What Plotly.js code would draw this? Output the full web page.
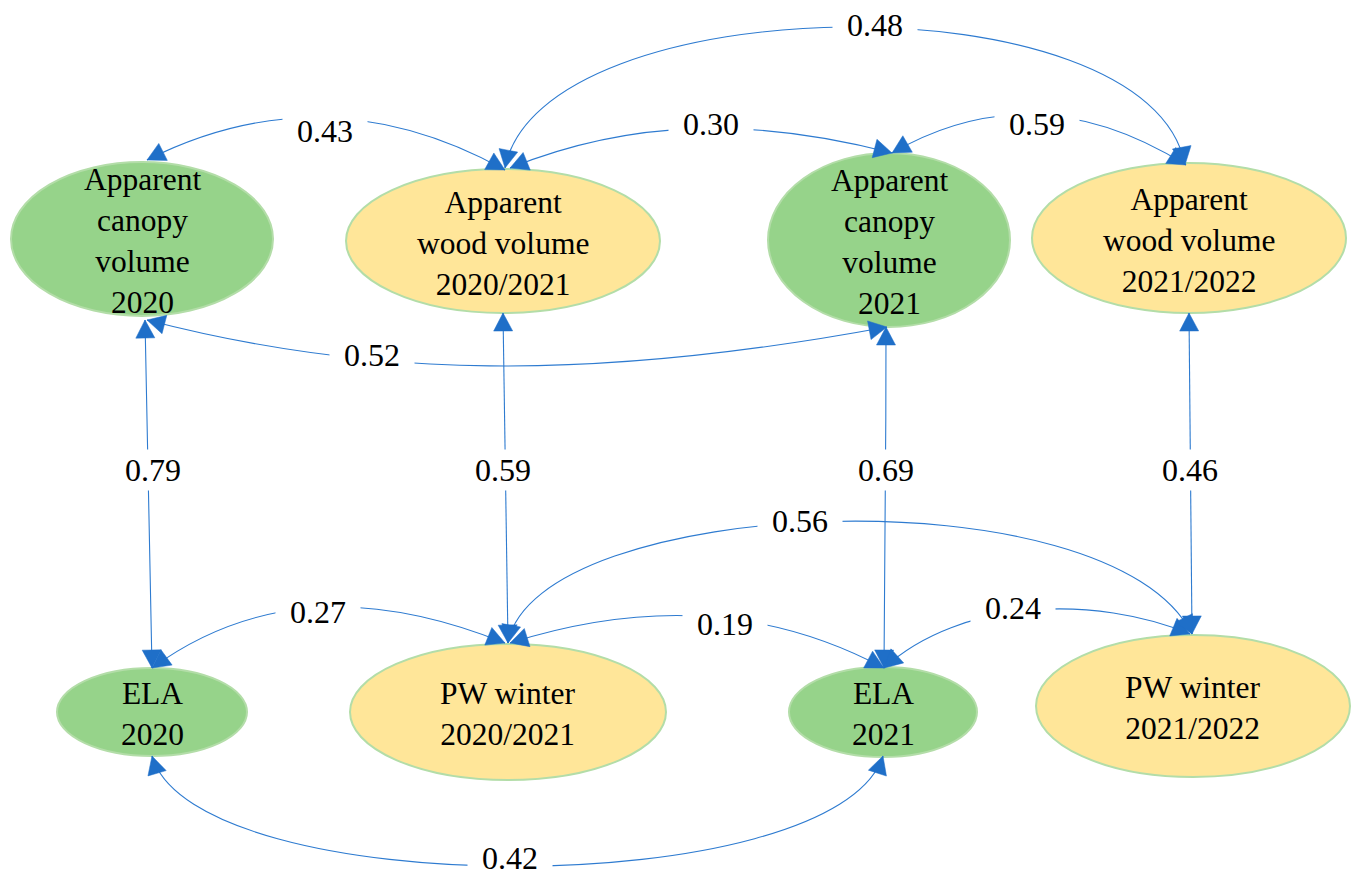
<!DOCTYPE html>
<html>
<head>
<meta charset="utf-8">
<script src="https://cdn.plot.ly/plotly-3.0.1.min.js"></script>
<style>html,body{margin:0;padding:0;background:#fff;}#chart{width:1355px;height:878px;}</style>
</head>
<body>
<div id="chart"></div>
<script>
// ---- data ----
const nodeLabels = [
  'Apparent<br>canopy<br>volume<br>2020',
  'Apparent<br>wood volume<br>2020/2021',
  'Apparent<br>canopy<br>volume<br>2021',
  'Apparent<br>wood volume<br>2021/2022',
  'ELA<br>2020',
  'PW winter<br>2020/2021',
  'ELA<br>2021',
  'PW winter<br>2021/2022'
];
const nodeGroup = ['canopy','wood','canopy','wood','canopy','wood','canopy','wood'];
const edgeFrom = [0, 1, 2, 1, 0, 0, 1, 2, 3, 4, 5, 6, 5, 4];
const edgeTo   = [1, 2, 3, 3, 2, 4, 5, 6, 7, 5, 6, 7, 7, 6];
const edgeValues = ['0.43','0.30','0.59','0.48','0.52','0.79','0.59','0.69','0.46','0.27','0.19','0.24','0.56','0.42'];

// ---- layout geometry (diagram coordinates) ----
const nodeCX = [142, 503, 889, 1189, 152, 508, 883, 1193];
const nodeCY = [239, 241, 240, 238, 712, 712, 712, 706];
const nodeRX = [131, 157, 121, 157, 95, 158, 94, 157];
const nodeRY = [77, 72, 87, 75, 44, 68, 45, 71];
// cubic bezier control points per edge: [P0, P1, P2, P3]
const edgeCurves = [
  [[147,160],[262,102],[382,102],[505,170]],
  [[510,168],[634,118],[757,118],[892,153]],
  [[892,153],[987,98],[1085,102],[1186,165]],
  [[505,168],[540,-15],[1150,-24],[1185,165]],
  [[147,320],[370,378],[590,382],[887,327]],
  [[145,320],[147,440],[150,550],[152,668]],
  [[503,313],[504,430],[506,540],[508,643]],
  [[886,327],[886,440],[885,550],[884,668]],
  [[1189,313],[1190,430],[1191,540],[1192,634]],
  [[152,668],[255,593],[373,590],[505,643]],
  [[510,643],[637,603],[762,603],[884,668]],
  [[884,668],[961,598],[1096,595],[1190,634]],
  [[508,643],[535,495],[1110,470],[1192,634]],
  [[152,756],[195,903],[835,903],[883,756]]
];
const labelX = [325, 711, 1037, 875, 372, 153, 503, 886, 1190, 318, 725, 1013, 800, 510];
const labelY = [131, 124, 124, 25, 355, 470, 470, 470, 470, 612, 624, 608, 521, 858];

const fillColors = {canopy: '#96D38A', wood: '#FFE699'};
const lineColor = '#2E7BD0';
const headColor = '#1F6FC8';
const serif = 'Liberation Serif, Times New Roman, serif';

const shapes = [];
edgeCurves.forEach(c => {
  shapes.push({
    type: 'path', xref: 'x', yref: 'y', layer: 'above',
    path: `M ${c[0][0]},${c[0][1]} C ${c[1][0]},${c[1][1]} ${c[2][0]},${c[2][1]} ${c[3][0]},${c[3][1]}`,
    line: {color: lineColor, width: 1.1}
  });
});
nodeCX.forEach((cx, i) => {
  shapes.push({
    type: 'circle', xref: 'x', yref: 'y', layer: 'below',
    x0: cx - nodeRX[i], x1: cx + nodeRX[i], y0: nodeCY[i] - nodeRY[i], y1: nodeCY[i] + nodeRY[i],
    fillcolor: fillColors[nodeGroup[i]],
    line: {color: '#B3DDA8', width: 2}
  });
});
function head(tip, from) {
  let dx = tip[0] - from[0], dy = tip[1] - from[1];
  const len = Math.hypot(dx, dy) || 1;
  dx /= len; dy /= len;
  const L = 18, W = 9.5;
  const bx = tip[0] - L * dx, by = tip[1] - L * dy;
  const nx = -dy, ny = dx;
  return {
    type: 'path', xref: 'x', yref: 'y', layer: 'above',
    path: `M ${tip[0]},${tip[1]} L ${bx + W*nx},${by + W*ny} L ${bx - W*nx},${by - W*ny} Z`,
    fillcolor: headColor, line: {color: headColor, width: 0.5}
  };
}
edgeCurves.forEach(c => {
  shapes.push(head(c[0], c[1]));
  shapes.push(head(c[3], c[2]));
});

const annotations = [];
nodeLabels.forEach((t, i) => {
  annotations.push({
    x: nodeCX[i], y: nodeCY[i] + 2, xref: 'x', yref: 'y', text: t, showarrow: false,
    font: {family: serif, size: 31.5, color: '#000'}, align: 'center'
  });
});
edgeValues.forEach((v, i) => {
  annotations.push({
    x: labelX[i], y: labelY[i], xref: 'x', yref: 'y', text: v, showarrow: false,
    font: {family: serif, size: 32, color: '#000'}, bgcolor: '#ffffff', width: 80, borderpad: 2
  });
});

const layout = {
  width: 1355, height: 878,
  margin: {l: 0, r: 0, t: 0, b: 0},
  paper_bgcolor: '#ffffff', plot_bgcolor: '#ffffff',
  showlegend: false,
  font: {family: serif},
  xaxis: {range: [0, 1355], visible: false, fixedrange: true},
  yaxis: {range: [878, 0], visible: false, fixedrange: true},
  shapes: shapes,
  annotations: annotations
};
const traces = [{x: nodeCX, y: nodeCY, mode: 'markers', marker: {opacity: 0}, hoverinfo: 'skip', type: 'scatter'}];
Plotly.newPlot('chart', traces, layout, {staticPlot: true, displayModeBar: false});
</script>
</body>
</html>
